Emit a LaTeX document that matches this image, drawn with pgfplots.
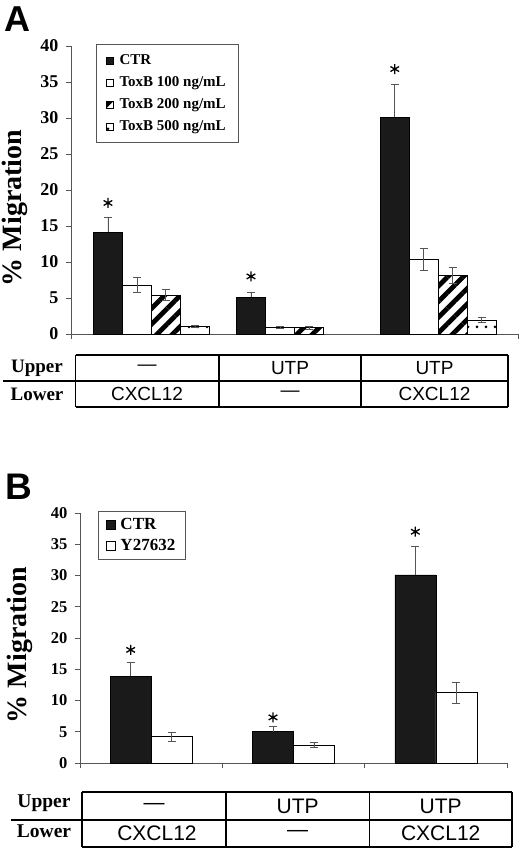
\documentclass[border=0pt]{standalone}
\usepackage{pgfplots}
\pgfplotsset{compat=1.18}
\usepackage{fontspec}
\setmainfont{Liberation Serif}
\newfontfamily\arial{Liberation Sans}
\usetikzlibrary{patterns.meta}
\definecolor{barblack}{HTML}{1A1A1A}
\definecolor{axgray}{HTML}{555555}

\begin{document}
\begin{tikzpicture}[x=1pt,y=1pt]
\useasboundingbox (0,0) rectangle (520,849);
\pgfplotsset{
  panel/.style={
    scale only axis,
    axis lines=left,
    axis line style={axgray, line width=0.9pt, -},
    xmin=-0.5, xmax=2.5, ymin=0, ymax=40,
    ytick={0,5,...,40},
    tick align=outside,
    major tick length=5pt,
    tick style={axgray, line width=0.9pt},
    xticklabels={},
    /pgf/number format/assume math mode=true,
    ylabel={\% Migration},
    clip=false,
  },
  sqleg/.style={legend image code/.code={\draw[##1, line width=0.6pt] (0pt,-#1) rectangle (2*#1,#1);}},
  ebar/.style={error bars/.cd, y dir=#1, y explicit,
     error bar style={axgray, line width=0.9pt},
     error mark options={rotate=90, mark size=4pt, line width=0.9pt, axgray}},
}

% ================= Panel A =================
\node[anchor=base west, inner sep=0pt, font=\arial\bfseries\fontsize{36}{36}\selectfont] at (4,817) {A};
\begin{axis}[panel,
  at={(71pt,515pt)}, anchor=south west,
  width=447pt, height=288pt,
  xtick={-0.5,2.5},
  yticklabel style={font=\bfseries\fontsize{18}{18}\selectfont, xshift=-4pt},
  ylabel style={font=\bfseries\fontsize{28}{28}\selectfont, inner sep=0pt, at={(axis description cs:-0.1253,0.4375)}, anchor=center},
  legend style={at={(axis description cs:0.056,1.007)}, anchor=north west,
     draw=axgray, line width=0.9pt, font=\bfseries\fontsize{15}{15}\selectfont,
     inner xsep=10pt, inner ysep=8pt, row sep=5.5pt,
     nodes={inner sep=2.5pt}},
  legend cell align=left,
  /tikz/every odd column/.append style={column sep=3pt},
]
\addplot[ybar, bar width=29pt, fill=barblack, draw=black, line width=0.6pt, sqleg=3.5pt, ebar=plus]
  coordinates {(-0.252,14.1) +- (0,2.1) (0.708,5.1) +- (0,0.65) (1.673,30.1) +- (0,4.5)};
\addlegendentry{CTR}
\addplot[ybar, bar width=29pt, fill=white, draw=black, line width=0.6pt, sqleg=3.5pt, ebar=both]
  coordinates {(-0.057,6.8) +- (0,1.05) (0.903,0.93) +- (0,0.15) (1.868,10.4) +- (0,1.55)};
\addlegendentry{ToxB 100 ng/mL}
\addplot[ybar, bar width=29pt, draw=black, line width=0.6pt,
   pattern={Lines[angle=45,distance=11pt,line width=4.8pt]}, pattern color=black, sqleg=3.5pt, ebar=both]
  coordinates {(0.137,5.4) +- (0,0.8) (1.097,0.9) +- (0,0.2) (2.062,8.1) +- (0,1.1)};
\addlegendentry{ToxB 200 ng/mL}
\addplot[ybar, bar width=29pt, draw=black, line width=0.6pt,
   pattern={Dots[radius=1.5pt,distance=9pt]}, pattern color=black, sqleg=3.5pt, ebar=both]
  coordinates {(0.332,1.0) +- (0,0.15) (2.257,1.95) +- (0,0.35)};
\addlegendentry{ToxB 500 ng/mL}
\addplot[forget plot, only marks, mark=asterisk, mark size=5pt, mark options={line width=1.3pt, black}]
  coordinates {(-0.252,18.2) (0.708,8.0) (1.673,36.8)};
\end{axis}

% Table A
\begin{scope}[line width=1.6pt]
\draw (75.5,494) -- (508,494);
\draw (3,468) -- (508,468);
\draw (75.5,442) -- (508,442);
\draw (75.5,494) -- (75.5,442);
\draw (219,494) -- (219,442);
\draw (361,494) -- (361,442);
\draw (508,494) -- (508,442);
\end{scope}
\begin{scope}[every node/.style={inner sep=0pt, anchor=center}]
\node[font=\bfseries\fontsize{19}{19}\selectfont] at (37,481) {Upper};
\node[font=\bfseries\fontsize{19}{19}\selectfont] at (37,455) {Lower};
\node[font=\arial\fontsize{19}{19}\selectfont] at (147,481) {—};
\node[font=\arial\fontsize{19}{19}\selectfont] at (290,481) {UTP};
\node[font=\arial\fontsize{19}{19}\selectfont] at (434.5,481) {UTP};
\node[font=\arial\fontsize{19}{19}\selectfont] at (147,455) {CXCL12};
\node[font=\arial\fontsize{19}{19}\selectfont] at (290,455) {—};
\node[font=\arial\fontsize{19}{19}\selectfont] at (434.5,455) {CXCL12};
\end{scope}

% ================= Panel B =================
\node[anchor=base west, inner sep=0pt, font=\arial\bfseries\fontsize{37}{37}\selectfont] at (5,349) {B};
\begin{axis}[panel,
  at={(80pt,86pt)}, anchor=south west,
  width=427pt, height=250pt,
  xtick={-0.5,0.5,1.5,2.5},
  yticklabel style={font=\bfseries\fontsize{16.5}{16.5}\selectfont, xshift=-4pt},
  ylabel style={font=\bfseries\fontsize{28}{28}\selectfont, inner sep=0pt, at={(axis description cs:-0.141,0.472)}, anchor=center},
  legend style={at={(axis description cs:0.042,1.008)}, anchor=north west,
     draw=axgray, line width=0.9pt, font=\bfseries\fontsize{17}{17}\selectfont,
     inner xsep=8pt, inner ysep=4.5pt, row sep=3pt,
     nodes={inner sep=2.5pt}},
  legend cell align=left,
  /tikz/every odd column/.append style={column sep=2pt},
]
\addplot[ybar, bar width=41pt, fill=barblack, draw=black, line width=0.6pt, sqleg=4.5pt, ebar=plus]
  coordinates {(-0.144,13.9) +- (0,2.2) (0.856,5.0) +- (0,0.8) (1.856,30.1) +- (0,4.5)};
\addlegendentry{CTR}
\addplot[ybar, bar width=41pt, fill=white, draw=black, line width=0.6pt, sqleg=4.5pt, ebar=both]
  coordinates {(0.144,4.2) +- (0,0.7) (1.144,2.9) +- (0,0.45) (2.144,11.25) +- (0,1.65)};
\addlegendentry{Y27632}
\addplot[forget plot, only marks, mark=asterisk, mark size=5pt, mark options={line width=1.3pt, black}]
  coordinates {(-0.144,18.1) (0.856,7.3) (1.856,37.0)};
\end{axis}

% Table B
\begin{scope}[line width=1.6pt]
\draw (81.7,56.7) -- (512,56.7);
\draw (11,29) -- (513,29);
\draw (81.7,1.7) -- (512,1.7);
\draw (81.7,56.7) -- (81.7,1.7);
\draw (226,56.7) -- (226,1.7);
\draw (369.3,56.7) -- (369.3,1.7);
\draw (512,56.7) -- (512,1.7);
\end{scope}
\begin{scope}[every node/.style={inner sep=0pt, anchor=center}]
\node[font=\bfseries\fontsize{19.5}{19.5}\selectfont] at (44,45.7) {Upper};
\node[font=\bfseries\fontsize{19.5}{19.5}\selectfont] at (44,17.3) {Lower};
\node[font=\arial\fontsize{21}{21}\selectfont] at (154,43) {—};
\node[font=\arial\fontsize{21}{21}\selectfont] at (297.7,43) {UTP};
\node[font=\arial\fontsize{21}{21}\selectfont] at (440.7,43) {UTP};
\node[font=\arial\fontsize{21}{21}\selectfont] at (157,15.3) {CXCL12};
\node[font=\arial\fontsize{21}{21}\selectfont] at (297.7,15.3) {—};
\node[font=\arial\fontsize{21}{21}\selectfont] at (440.7,15.3) {CXCL12};
\end{scope}
\end{tikzpicture}
\end{document}
